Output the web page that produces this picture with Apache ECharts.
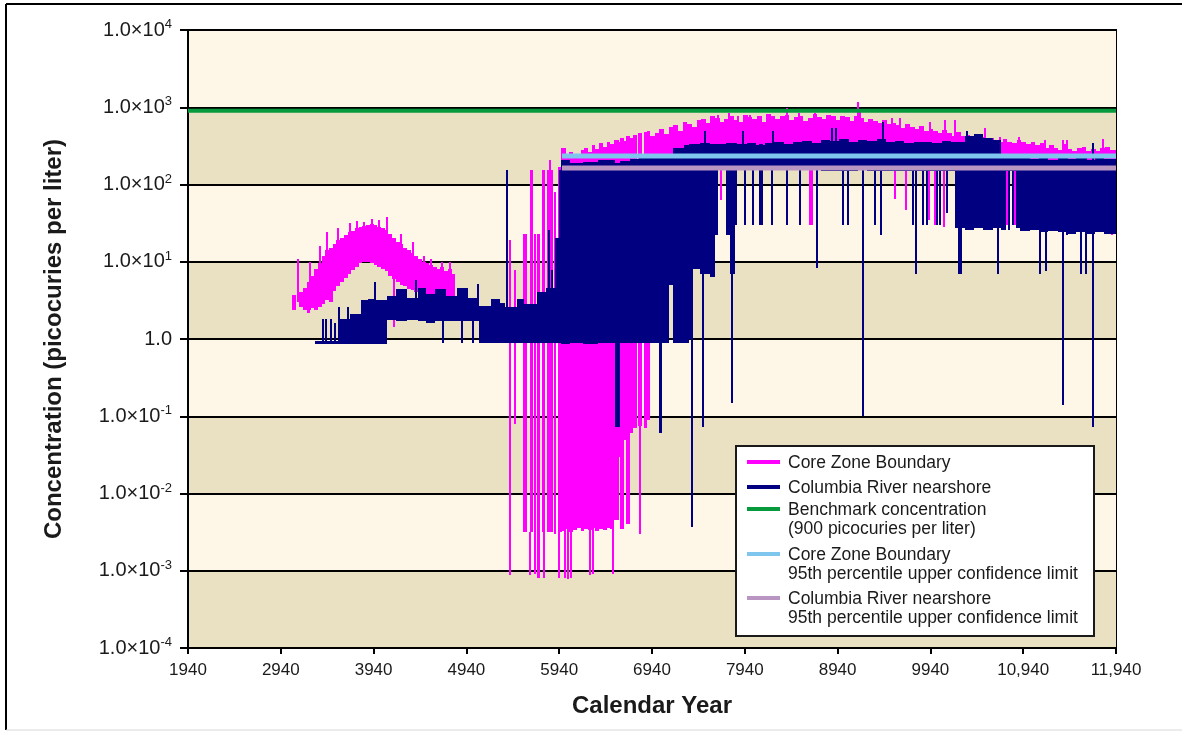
<!DOCTYPE html>
<html>
<head>
<meta charset="utf-8">
<script src="https://cdn.jsdelivr.net/npm/echarts@6/dist/echarts.min.js"></script>
<style>
  html, body { margin: 0; padding: 0; background: #fff; }
  #main { width: 1182px; height: 732px; }
</style>
</head>
<body>
<div id="main"></div>
<script>
// x axis: calendar years, ticks every 1000 from 1940
var yearStart = 1940;
var yearEnd = 11940;
var yearStep = 1000;

// horizontal reference levels (picocuries per liter)
var benchmark = 900;
var czbUcl = 234;   // Core Zone Boundary 95th percentile UCL
var crnUcl = 164;   // Columbia River nearshore 95th percentile UCL
var uclFrom = 5970;

var seriesNames = [
  "Core Zone Boundary",
  "Columbia River nearshore",
  "Benchmark concentration\n(900 picocuries per liter)",
  "Core Zone Boundary\n95th percentile upper confidence limit",
  "Columbia River nearshore\n95th percentile upper confidence limit"
];

// strokes: [fromYear, toYear, low, high]
// (fromYear == toYear is a single thin spike)
var czbHump = [
  [3060,3100,2.4,3.7],[3130,3130,3.0,11],[3140,3180,2.6,4.0],[3180,3220,2.4,4.6],
  [3220,3260,2.2,5.5],[3250,3250,2.4,10],[3260,3300,2.5,6.5],[3300,3340,2.4,8],
  [3340,3380,2.6,9.5],[3365,3365,3,16],[3380,3420,2.8,12],[3420,3460,3.2,14],
  [3440,3440,5,24],[3460,3500,3.0,15],[3500,3540,4.2,17],[3540,3580,4.8,19],
  [3560,3560,8,27],[3580,3620,5.5,20],[3620,3660,6.2,22],[3660,3700,7,24],
  [3690,3690,10,32],[3700,3740,7.8,25],[3740,3780,8.5,27],[3760,3760,12,34],
  [3780,3820,9.5,28],[3820,3860,10,29],[3840,3840,12,33],[3860,3900,10,30],
  [3900,3940,9.5,31],[3920,3920,12,36],[3940,3980,9,30],[3980,4020,8.5,28],
  [4000,4000,12,35],[4020,4060,8,27],[4060,4100,7.5,26],[4080,4080,10,38],
  [4100,4140,6.5,23],[4140,4180,6,20],[4160,4160,1.45,6],[4180,4220,5.5,18],
  [4220,4260,5,17],[4240,4240,7,23],[4260,4300,4.8,15],[4300,4340,4.5,14],
  [4340,4380,4.3,13],[4360,4360,6,18],[4380,4420,4.0,12],[4420,4460,3.9,11],
  [4460,4500,3.8,10],[4480,4480,5,12],[4500,4540,3.7,9.5],[4540,4580,3.7,9],
  [4560,4560,4.5,11],[4580,4620,3.6,8.5],[4620,4660,3.5,8],[4660,4700,3.5,8.5],
  [4680,4680,4,10],[4700,4740,3.4,7.5],[4740,4780,3.4,8],[4760,4760,4,10],
  [4780,4820,3.3,7]
];

var czbSpikes = [
  [5400,5425,0.07,19],[5410,5410,0.00088,0.07],[5455,5470,0.08,7.8],
  [5550,5595,0.0032,23],[5620,5660,0.0032,154],[5625,5625,0.00088,0.0032],
  [5680,5680,0.0009,23],[5700,5735,0.0008,23],[5755,5790,0.0032,154],
  [5780,5780,0.0008,0.0032],[5808,5875,0.0032,154],[5840,5840,0.0032,210],
  [5900,5900,0.003,80],[5925,5970,0.0032,170],[5940,5940,0.0008,0.0032]
];

var czbLow = [
  [5960,6010,0.0033,300],[6010,6050,0.0035,240],[6050,6090,0.0032,260],
  [6090,6130,0.0034,230],[6130,6170,0.0036,250],[6170,6210,0.0033,280],
  [6210,6250,0.0035,300],[6250,6290,0.0034,260],[6290,6330,0.0036,320],
  [6330,6370,0.0033,290],[6370,6410,0.0035,340],[6410,6450,0.0034,310],
  [6450,6490,0.0036,360],[6490,6530,0.0035,330],
  [6000,6000,0.0008,0.004],[6030,6030,0.00078,0.004],[6070,6070,0.0008,0.004],
  [6270,6270,0.00088,0.004],[6300,6300,0.0009,0.004],[6520,6520,0.0009,0.004],
  [6530,6580,0.0045,380],[6580,6600,0.03,360],[6600,6640,0.0035,400],
  [6640,6660,0.05,370],[6660,6700,0.004,420],[6700,6740,0.06,400],
  [6740,6780,0.07,440],[6790,6830,0.075,460],[6810,6810,0.003,0.08],
  [6850,6890,0.07,480],[6890,6920,0.09,500]
];

var czbHigh = [
  [6920,6970,175,420],[6970,7020,175,470],[7020,7070,175,520],[7070,7120,175,450],
  [7120,7170,175,560],[7170,7220,175,590],[7220,7270,175,500],[7270,7320,175,640],
  [7320,7370,175,610],[7370,7420,175,560],[7420,7470,175,690],[7470,7520,175,700],
  [7520,7570,175,620],[7570,7620,175,760],[7620,7670,175,720],[7670,7720,175,640],
  [7720,7770,175,700],[7770,7820,175,780],[7820,7870,175,680],[7870,7920,175,640],
  [7920,7970,175,790],[7970,8020,175,740],[8020,8070,175,700],[8070,8120,175,760],
  [8120,8170,175,650],[8170,8220,175,820],[8220,8270,175,760],[8270,8320,175,700],
  [8320,8370,175,780],[8370,8420,175,800],[8420,8470,175,690],[8470,8520,175,740],
  [8520,8570,175,780],[8570,8620,175,660],[8620,8670,175,720],[8670,8720,175,810],
  [8720,8770,175,740],[8770,8820,175,700],[8820,8870,175,790],[8870,8920,175,760],
  [8920,8970,175,680],[8970,9020,175,770],[9020,9070,175,740],[9070,9120,175,660],
  [9120,9170,175,770],[9170,9220,175,720],[9220,9270,175,640],[9270,9320,175,700],
  [9320,9370,175,660],[9370,9420,175,620],[9420,9470,175,690],[9470,9520,175,600],
  [9520,9570,175,630],[9570,9620,175,590],[9620,9670,175,540],[9670,9720,175,610],
  [9720,9770,175,560],[9770,9820,175,520],[9820,9870,175,570],[9870,9920,175,500],
  [9920,9970,175,530],[9970,10020,175,490],[10020,10070,175,460],[10070,10120,175,510],
  [10120,10170,175,470],[10170,10220,175,430],[10220,10270,175,480],[10270,10320,175,420],
  [10320,10370,175,440],[10370,10420,175,400],[10420,10470,175,430],[10470,10520,175,410],
  [10520,10570,175,370],[10570,10620,175,400],[10620,10670,175,380],[10670,10720,175,350],
  [10720,10770,175,390],[10770,10820,175,360],[10820,10870,175,340],[10870,10920,175,375],
  [10920,10970,175,350],[10970,11020,175,330],[11020,11070,175,360],[11070,11120,175,320],
  [11120,11170,175,340],[11170,11220,175,300],[11220,11270,175,320],[11270,11320,175,300],
  [11320,11370,175,280],[11370,11420,175,330],[11420,11470,175,290],[11470,11520,175,270],
  [11520,11570,175,300],[11570,11620,175,310],[11620,11670,175,275],[11670,11720,175,290],
  [11720,11770,175,270],[11770,11820,175,300],[11820,11870,175,310],[11870,11940,175,280],
  // spikes up
  [7650,7650,400,800],[7770,7770,400,840],[7870,7870,400,780],[8000,8000,400,800],
  [8390,8390,500,980],[8520,8520,400,840],[8700,8700,400,840],[8860,8860,400,800],
  [9160,9160,500,1170],[9180,9180,500,920],[9530,9530,400,730],[9610,9610,400,730],
  [9940,9940,400,640],[10100,10100,400,680],[10210,10210,300,680],[10530,10530,300,540],
  [10690,10690,300,410],[10900,10900,300,410],[11180,11180,250,380],[11370,11370,250,380],
  [11410,11410,250,380],[11800,11800,250,390],
  // spikes down
  [7480,7480,27,200],[7680,7680,63,200],[8640,8640,30,200],[8660,8660,30,200],
  [9560,9560,65,200],[9680,9680,47,200],[9930,9930,35,200],[9990,9990,30,200],
  [10040,10040,32,200],[10090,10090,28,200],[10370,10370,28,200],[10770,10770,30,200],
  [10850,10850,30,200],[10900,10900,40,200],[11850,11850,25,200],[11900,11900,22,200]
];

var crnEarly = [
  [3310,3560,0.86,0.93],[3395,3395,0.86,1.8],[3430,3430,0.86,1.8],[3480,3480,0.86,1.8],
  [3520,3520,0.86,1.6],[3560,3690,0.86,1.8],[3570,3570,0.86,2.6],[3665,3665,0.86,2.6],
  [3690,3800,0.87,2.1],[3800,3880,0.86,3.2],[3880,3960,0.86,3.3],[3960,3970,0.86,5.4],
  [3970,4080,0.87,3.2],[4080,4180,1.75,3.6],[4180,4300,1.7,4.5],[4300,4420,1.75,3.4],
  [4400,4410,1.75,5.8],[4420,4500,1.7,4.6],[4500,4600,1.6,3.8],[4600,4720,1.7,4.4],
  [4690,4690,0.88,2],[4720,4840,1.7,3.6],[4840,4960,1.7,4.6],[4890,4890,0.88,2],
  [4960,5080,1.7,3.4],[5010,5010,0.88,2],[5060,5060,2,5.2],[5080,5200,0.88,2.7],
  [5200,5300,0.88,3.3],[5300,5360,0.88,2.9],[5375,5375,0.9,154],[5360,5480,0.88,2.6],
  [5480,5560,0.88,3.3],[5560,5700,0.88,2.8],[5700,5800,0.88,4.0],[5800,5900,0.88,4.6],
  [5830,5830,1.5,26],[5860,5870,1,7.8],[5900,5960,0.88,20],[5945,5945,0.9,154]
];

var crnMid = [
  [5960,6060,0.87,205],[6060,6200,0.88,190],[6200,6360,0.87,198],[6360,6540,0.88,205],
  [6540,6590,0.072,190],[6590,6700,0.88,200],[6700,6800,0.88,215],[6800,7020,0.88,225],
  [7020,7050,0.06,230],[7050,7120,0.9,230],[7120,7170,5,240],[7170,7290,0.9,300],
  [7290,7340,0.9,320],[7340,7370,1,330],[7375,7385,0.0037,330],[7385,7460,8,330],
  [7490,7490,0.073,330],[7460,7560,7,340],[7560,7620,6.3,330],[7620,7650,22,330],
  [7650,7740,165,330],[7740,7780,22,340],[7780,7830,7,340],[7830,7860,30,340],
  [7800,7800,0.15,340]
];

var crnHigh = [
  [7860,7960,165,330],[7960,8060,162,345],[8060,8160,165,320],[8160,8260,160,340],
  [8260,8360,162,355],[8360,8460,165,330],[8460,8560,160,350],[8560,8660,158,365],
  [8660,8760,152,345],[8760,8860,150,380],[8860,8960,150,370],[8960,9060,150,385],
  [9060,9160,150,360],[9160,9260,152,380],[9260,9360,150,370],[9360,9460,150,390],
  [9460,9560,150,355],[9560,9660,150,370],[9660,9760,150,345],[9760,9860,150,360],
  [9860,9960,150,350],[9960,10060,150,340],[10060,10160,150,370],[10160,10210,150,350],
  [10210,10310,27,360],[10310,10410,26,430],[10410,10510,27,450],[10510,10610,26,400],
  [10610,10700,27,380],[10700,10760,26,230],[10760,10860,150,222],[10860,10910,27,220],
  [10910,11010,25,230],[11010,11110,26,215],[11110,11210,24,225],[11210,11310,25,210],
  [11310,11410,24,220],[11410,11510,23,215],[11510,11610,24,225],[11610,11710,23,210],
  [11710,11810,24,220],[11810,11940,23,215],
  // spikes down
  [7940,7940,30,330],[8030,8030,30,330],[8100,8100,30,330],[8130,8130,30,330],
  [8230,8230,30,330],[8390,8390,30,330],[8530,8530,30,330],[8720,8720,8.3,330],
  [9000,9000,30,330],[9050,9050,30,330],[9210,9210,0.1,330],[9340,9350,30,330],
  [9400,9420,22,330],[9750,9760,30,330],[9780,9780,7,330],[9860,9870,30,330],
  [9900,9900,30,330],[10010,10020,30,330],[10040,10040,30,330],[10120,10120,43,330],
  [10240,10280,7,330],[10670,10670,7,330],[10790,10790,26,220],[10830,10830,30,220],
  [11120,11120,7,220],[11190,11190,7.5,220],[11370,11370,0.14,220],[11410,11410,22,220],
  [11560,11560,7,220],[11620,11620,7,220],[11690,11690,0.072,220],
  // spikes up
  [7510,7510,300,500],[7920,7920,300,500],[8240,8240,300,500],[8880,8880,350,540],
  [8920,8920,350,540],[9430,9430,350,650],[10330,10330,380,500],[11690,11700,200,340]
];

var PINK = '#FF00FF', NAVY = '#000080', GREEN = '#079A3C', SKY = '#7FC6EE', LILAC = '#B996C2';
var FONT = '"Liberation Sans", Arial, sans-serif';

function toAxis(list) {
  return list.map(function (d) { return [d[0] - yearStart, d[1] - yearStart, d[2], d[3]]; });
}

// each stroke is a pixel-snapped rectangle so neighbouring strokes join without seams
function strokes(color) {
  return function (params, api) {
    var top = api.coord([api.value(0), api.value(3)]);
    var bot = api.coord([api.value(1), api.value(2)]);
    var x0 = Math.round(top[0]), x1 = Math.round(bot[0]);
    if (x1 - x0 < 2) { x0 = Math.round(top[0] - 1); x1 = x0 + 2; }
    var y0 = Math.round(top[1]), y1 = Math.round(bot[1]);
    return {
      type: 'rect',
      shape: { x: x0, y: y0, width: x1 - x0, height: Math.max(1, y1 - y0) },
      style: { fill: color, stroke: null }
    };
  };
}

function customSeries(name, list, color) {
  return {
    name: name, type: 'custom', renderItem: strokes(color),
    encode: { x: [0, 1], y: [2, 3] },
    data: toAxis(list), animation: false, silent: true, progressive: 0
  };
}

function flatLine(name, from, level, color, width) {
  return {
    name: name, type: 'line', symbol: 'none', silent: true, z: 5,
    data: [[from - yearStart, level], [yearEnd - yearStart, level]],
    lineStyle: { color: color, width: width }
  };
}

var chart = echarts.init(document.getElementById('main'));

// legend drawn by hand so the key sits on the first line of each entry
var legendColors = [PINK, NAVY, GREEN, SKY, LILAC];
var legendRows = [463, 488, 510, 555, 599];
var legendGfx = [{
  type: 'rect', z: 100,
  shape: { x: 736, y: 446, width: 358, height: 190 },
  style: { fill: '#fff', stroke: '#1a1a1a', lineWidth: 2 }
}];
seriesNames.forEach(function (n, i) {
  var y = legendRows[i];
  legendGfx.push({
    type: 'line', z: 101,
    shape: { x1: 747, y1: y - 1, x2: 780, y2: y - 1 },
    style: { stroke: legendColors[i], lineWidth: 4 }
  });
  n.split('\n').forEach(function (line, k) {
    legendGfx.push({
      type: 'text', z: 101, x: 788, y: y + k * 19,
      style: { text: line, font: '17.5px ' + FONT, fill: '#1a1a1a', verticalAlign: 'middle' }
    });
  });
});

var frame = [
  { type: 'line', shape: { x1: 6, y1: 4, x2: 1182, y2: 4 }, style: { stroke: '#000', lineWidth: 2 } },
  { type: 'line', shape: { x1: 6, y1: 4, x2: 6, y2: 730 }, style: { stroke: '#000', lineWidth: 2 } },
  { type: 'line', shape: { x1: 6, y1: 730, x2: 1182, y2: 730 }, style: { stroke: '#d8d8d8', lineWidth: 1 } }
];

chart.setOption({
  animation: false,
  backgroundColor: '#fff',
  grid: { left: 188, right: 66, top: 30, bottom: 84, show: true, borderColor: '#000', borderWidth: 2 },
  xAxis: {
    type: 'value', min: 0, max: yearEnd - yearStart, interval: yearStep,
    name: 'Calendar Year', nameLocation: 'middle', nameGap: 46,
    nameTextStyle: { fontFamily: FONT, fontSize: 24, fontWeight: 'bold', color: '#1a1a1a' },
    axisLine: { show: true, onZero: false, lineStyle: { color: '#000', width: 2 } },
    axisTick: { show: true, length: 6, lineStyle: { color: '#000', width: 2 } },
    axisLabel: {
      margin: 14, fontFamily: FONT, fontSize: 17, color: '#1a1a1a',
      formatter: function (v) {
        var y = v + yearStart;
        return y >= 10000 ? String(y).replace(/(\d+)(\d{3})$/, '$1,$2') : String(y);
      }
    },
    splitLine: { show: false }
  },
  yAxis: {
    type: 'log', logBase: 10, min: 1e-4, max: 1e4, splitNumber: 8,
    name: 'Concentration (picocuries per liter)', nameLocation: 'middle', nameGap: 122,
    nameTextStyle: { fontFamily: FONT, fontSize: 24, fontWeight: 'bold', color: '#1a1a1a' },
    axisLine: { show: true, lineStyle: { color: '#000', width: 2 } },
    axisTick: { show: true, length: 8, lineStyle: { color: '#000', width: 2 } },
    axisLabel: {
      margin: 16, color: '#1a1a1a',
      formatter: function (v) {
        var e = Math.round(Math.log10(v));
        if (e === 0) return '{b|1.0}';
        return '{b|1.0×10}{s|' + e + '}';
      },
      rich: {
        b: { fontFamily: FONT, fontSize: 20, color: '#1a1a1a', lineHeight: 24 },
        s: { fontFamily: FONT, fontSize: 13, color: '#1a1a1a', lineHeight: 14, verticalAlign: 'top' }
      }
    },
    splitLine: { show: true, lineStyle: { color: '#000', width: 2 } },
    splitArea: { show: true, areaStyle: { color: ['#EAE1C2', '#FEF7E8'] } }
  },
  graphic: frame.concat(legendGfx),
  series: [
    customSeries(seriesNames[0], czbHump.concat(czbSpikes, czbLow, czbHigh), PINK),
    customSeries(seriesNames[1], crnEarly.concat(crnMid, crnHigh), NAVY),
    flatLine(seriesNames[2], yearStart, benchmark, GREEN, 4),
    flatLine(seriesNames[3], uclFrom, czbUcl, SKY, 5),
    flatLine(seriesNames[4], uclFrom, crnUcl, LILAC, 5)
  ]
});
</script>
</body>
</html>
